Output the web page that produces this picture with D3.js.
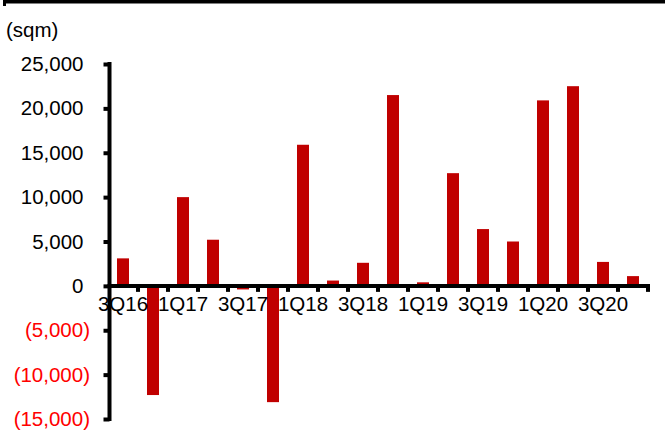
<!DOCTYPE html>
<html>
<head>
<meta charset="utf-8">
<script src="https://cdn.jsdelivr.net/npm/d3@7"></script>
<style>
  html, body { margin: 0; padding: 0; background: #fff; }
  svg { display: block; font-family: "Liberation Sans", Arial, sans-serif; }
</style>
</head>
<body>
<svg id="chart" width="665" height="448"></svg>
<script>
// Quarterly net absorption (sqm)
const quarters = ["3Q16","4Q16","1Q17","2Q17","3Q17","4Q17","1Q18","2Q18","3Q18","4Q18",
                  "1Q19","2Q19","3Q19","4Q19","1Q20","2Q20","3Q20","4Q20"];
const absorption = [3100, -12300, 10000, 5200, -400, -13100, 15900, 600, 2600, 21500,
                    400, 12700, 6400, 5000, 20900, 22500, 2700, 1100];
const yTicks = [-15000, -10000, -5000, 0, 5000, 10000, 15000, 20000, 25000];
const xLabels = ["3Q16","1Q17","3Q17","1Q18","3Q18","1Q19","3Q19","1Q20","3Q20"];
const unitLabel = "(sqm)";

const svg = d3.select("#chart");
const fontSize = 20.5;

const y = d3.scaleLinear().domain([-15000, 25000]).range([419, 64]);
const x = d3.scaleBand().domain(quarters).range([108, 648])
  .paddingInner(0.6).paddingOuter(0.3);

// top rule
svg.append("rect").attr("x", 3).attr("y", 0).attr("width", 662).attr("height", 3.5).attr("fill", "#000");
svg.append("rect").attr("x", 3).attr("y", 0).attr("width", 3).attr("height", 6).attr("fill", "#000");

// unit label
svg.append("text").attr("x", 6).attr("y", 37)
  .attr("font-size", fontSize).attr("fill", "#000").text(unitLabel);

// bars
svg.append("g").selectAll("rect").data(quarters).join("rect")
  .attr("x", d => x(d))
  .attr("width", x.bandwidth())
  .attr("y", (d, i) => y(Math.max(0, absorption[i])))
  .attr("height", (d, i) => Math.abs(y(absorption[i]) - y(0)))
  .attr("fill", "#C00000");

// y axis: accounting-style labels, positives padded by the width of ")"
const fmt = v => v < 0 ? "(" + d3.format(",")(-v) + ")" : d3.format(",")(v);
const yAxis = svg.append("g").attr("transform", "translate(109.5,0)")
  .call(d3.axisLeft(y).tickValues(yTicks).tickFormat(fmt).tickSize(6).tickPadding(20));
yAxis.select(".domain").attr("stroke", "#000").attr("stroke-width", 4)
  .attr("d", `M0,${y(-15000) + 2}V${y(25000) - 2}`);
yAxis.selectAll(".tick line").attr("stroke", "#000").attr("stroke-width", 4);
yAxis.selectAll(".tick text")
  .attr("font-size", fontSize)
  .attr("font-family", "Liberation Sans, Arial, sans-serif")
  .attr("dx", d => d < 0 ? 6.5 : 0)
  .attr("fill", d => d < 0 ? "#FF0000" : "#000");

// x axis along zero
const y0 = y(0);
const xAxis = svg.append("g").attr("transform", `translate(0,${y0})`);
xAxis.append("line").attr("x1", 107.5).attr("x2", 650).attr("y1", 0).attr("y2", 0)
  .attr("stroke", "#000").attr("stroke-width", 4);
const step = x.step();
const bounds = quarters.map((d, i) => x(d) - step * x.paddingInner() / 2 + step);
xAxis.selectAll("line.tk").data(bounds).join("line").attr("class", "tk")
  .attr("x1", d => d).attr("x2", d => d).attr("y1", 0).attr("y2", 6)
  .attr("stroke", "#000").attr("stroke-width", 4);
xAxis.selectAll("text").data(xLabels).join("text")
  .attr("x", d => x(d) + x.bandwidth() / 2)
  .attr("y", 25)
  .attr("text-anchor", "middle")
  .attr("font-size", fontSize)
  .attr("fill", "#000")
  .text(d => d);
</script>
</body>
</html>
